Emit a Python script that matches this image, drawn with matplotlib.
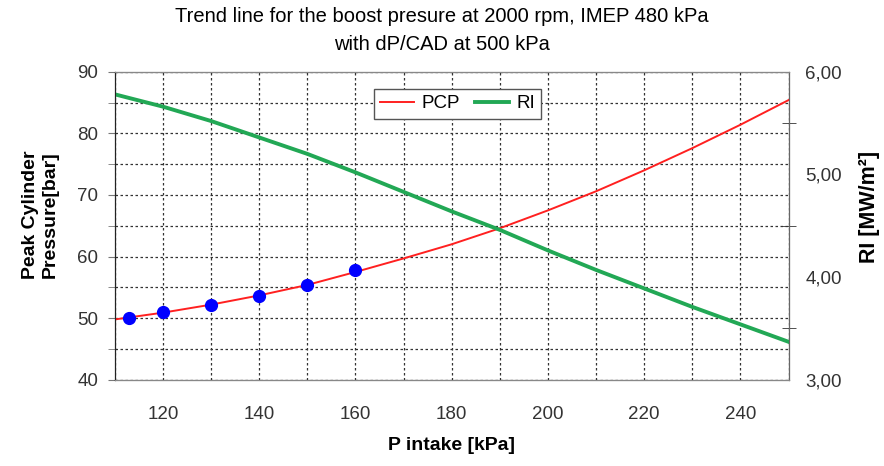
import numpy as np
import matplotlib
matplotlib.use("Agg")
import matplotlib.pyplot as plt
from matplotlib.ticker import MultipleLocator, FuncFormatter

plt.rcParams['font.family'] = ['Liberation Sans', 'DejaVu Sans']

# trend lines (every 10 kPa)
p_intake = [110, 120, 130, 140, 150, 160, 170, 180, 190, 200, 210, 220, 230, 240, 250]
pcp = [49.8, 50.9, 52.2, 53.7, 55.4, 57.5, 59.7, 62.0, 64.6, 67.5, 70.6, 74.0, 77.6, 81.4, 85.4]
ri = [5.78, 5.66, 5.52, 5.36, 5.20, 5.02, 4.83, 4.64, 4.46, 4.26, 4.07, 3.89, 3.71, 3.54, 3.37]

# measured points
p_meas = [113, 120, 130, 140, 150, 160]
pcp_meas = [50.1, 51.0, 52.1, 53.6, 55.4, 57.8]

fig = plt.figure(figsize=(8.84, 4.66), dpi=100)
ax = fig.add_axes([0.130, 0.185, 0.762, 0.661])
ax2 = ax.twinx()

l1, = ax.plot(p_intake, pcp, color='#ff2020', lw=1.4, label='PCP', zorder=3)
ax.plot(p_meas, pcp_meas, 'o', color='#0000ff', ms=8.5, zorder=4)
l2, = ax2.plot(p_intake, ri, color='#22a855', lw=2.8, label='RI')

ax.set_xlim(110, 250)
ax.set_ylim(40, 90)
ax2.set_ylim(3, 6)

ax.xaxis.set_major_locator(MultipleLocator(20))
ax.xaxis.set_minor_locator(MultipleLocator(10))
ax.yaxis.set_major_locator(MultipleLocator(10))
ax.yaxis.set_minor_locator(MultipleLocator(5))
ax2.yaxis.set_major_locator(MultipleLocator(1))
ax2.yaxis.set_minor_locator(MultipleLocator(0.5))
ax2.yaxis.set_major_formatter(FuncFormatter(lambda v, p: f"{v:.2f}".replace('.', ',')))

ax.grid(True, which='both', color='#333333', ls=(0, (2, 2)), lw=0.9)
ax.set_axisbelow(True)

ax.tick_params(axis='x', which='both', length=0, pad=19, labelsize=13.5, labelcolor='#333333')
ax.tick_params(axis='y', which='both', length=5, color='#777777', pad=7, labelsize=13.5, labelcolor='#333333')
ax2.tick_params(axis='y', which='major', length=0, pad=12, labelsize=13.5, labelcolor='#333333')
ax2.tick_params(axis='y', which='minor', direction='inout', length=10, color='#333333')

for s in ['top', 'right', 'bottom']:
    ax2.spines[s].set_color('#888888')
ax2.spines['left'].set_color('#222222')
ax2.spines['right'].set_color('#666666')

fig.suptitle('Trend line for the boost presure at 2000 rpm, IMEP 480 kPa\nwith dP/CAD at 500 kPa',
             fontsize=14.5, y=0.985, linespacing=1.6)
ax.set_xlabel('P intake [kPa]', fontsize=14, fontweight='bold', labelpad=10)
ax.set_ylabel('Peak Cylinder\nPressure[bar]', fontsize=14, fontweight='bold')
ax.yaxis.set_label_coords(-0.083, 0.535)
ax2.set_ylabel('RI [MW/m²]', fontsize=15.5, fontweight='bold')
ax2.yaxis.set_label_coords(1.105, 0.56)

leg = ax2.legend([l1, l2], ['PCP', 'RI'], ncol=2, loc='upper left', bbox_to_anchor=(0.37, 0.976),
                 fontsize=13.5, fancybox=False, edgecolor='#555555', framealpha=1,
                 handlelength=1.8, handletextpad=0.4, columnspacing=0.8, borderpad=0.35)
leg.get_frame().set_linewidth(1.0)

fig.savefig('out.png', dpi=100)
